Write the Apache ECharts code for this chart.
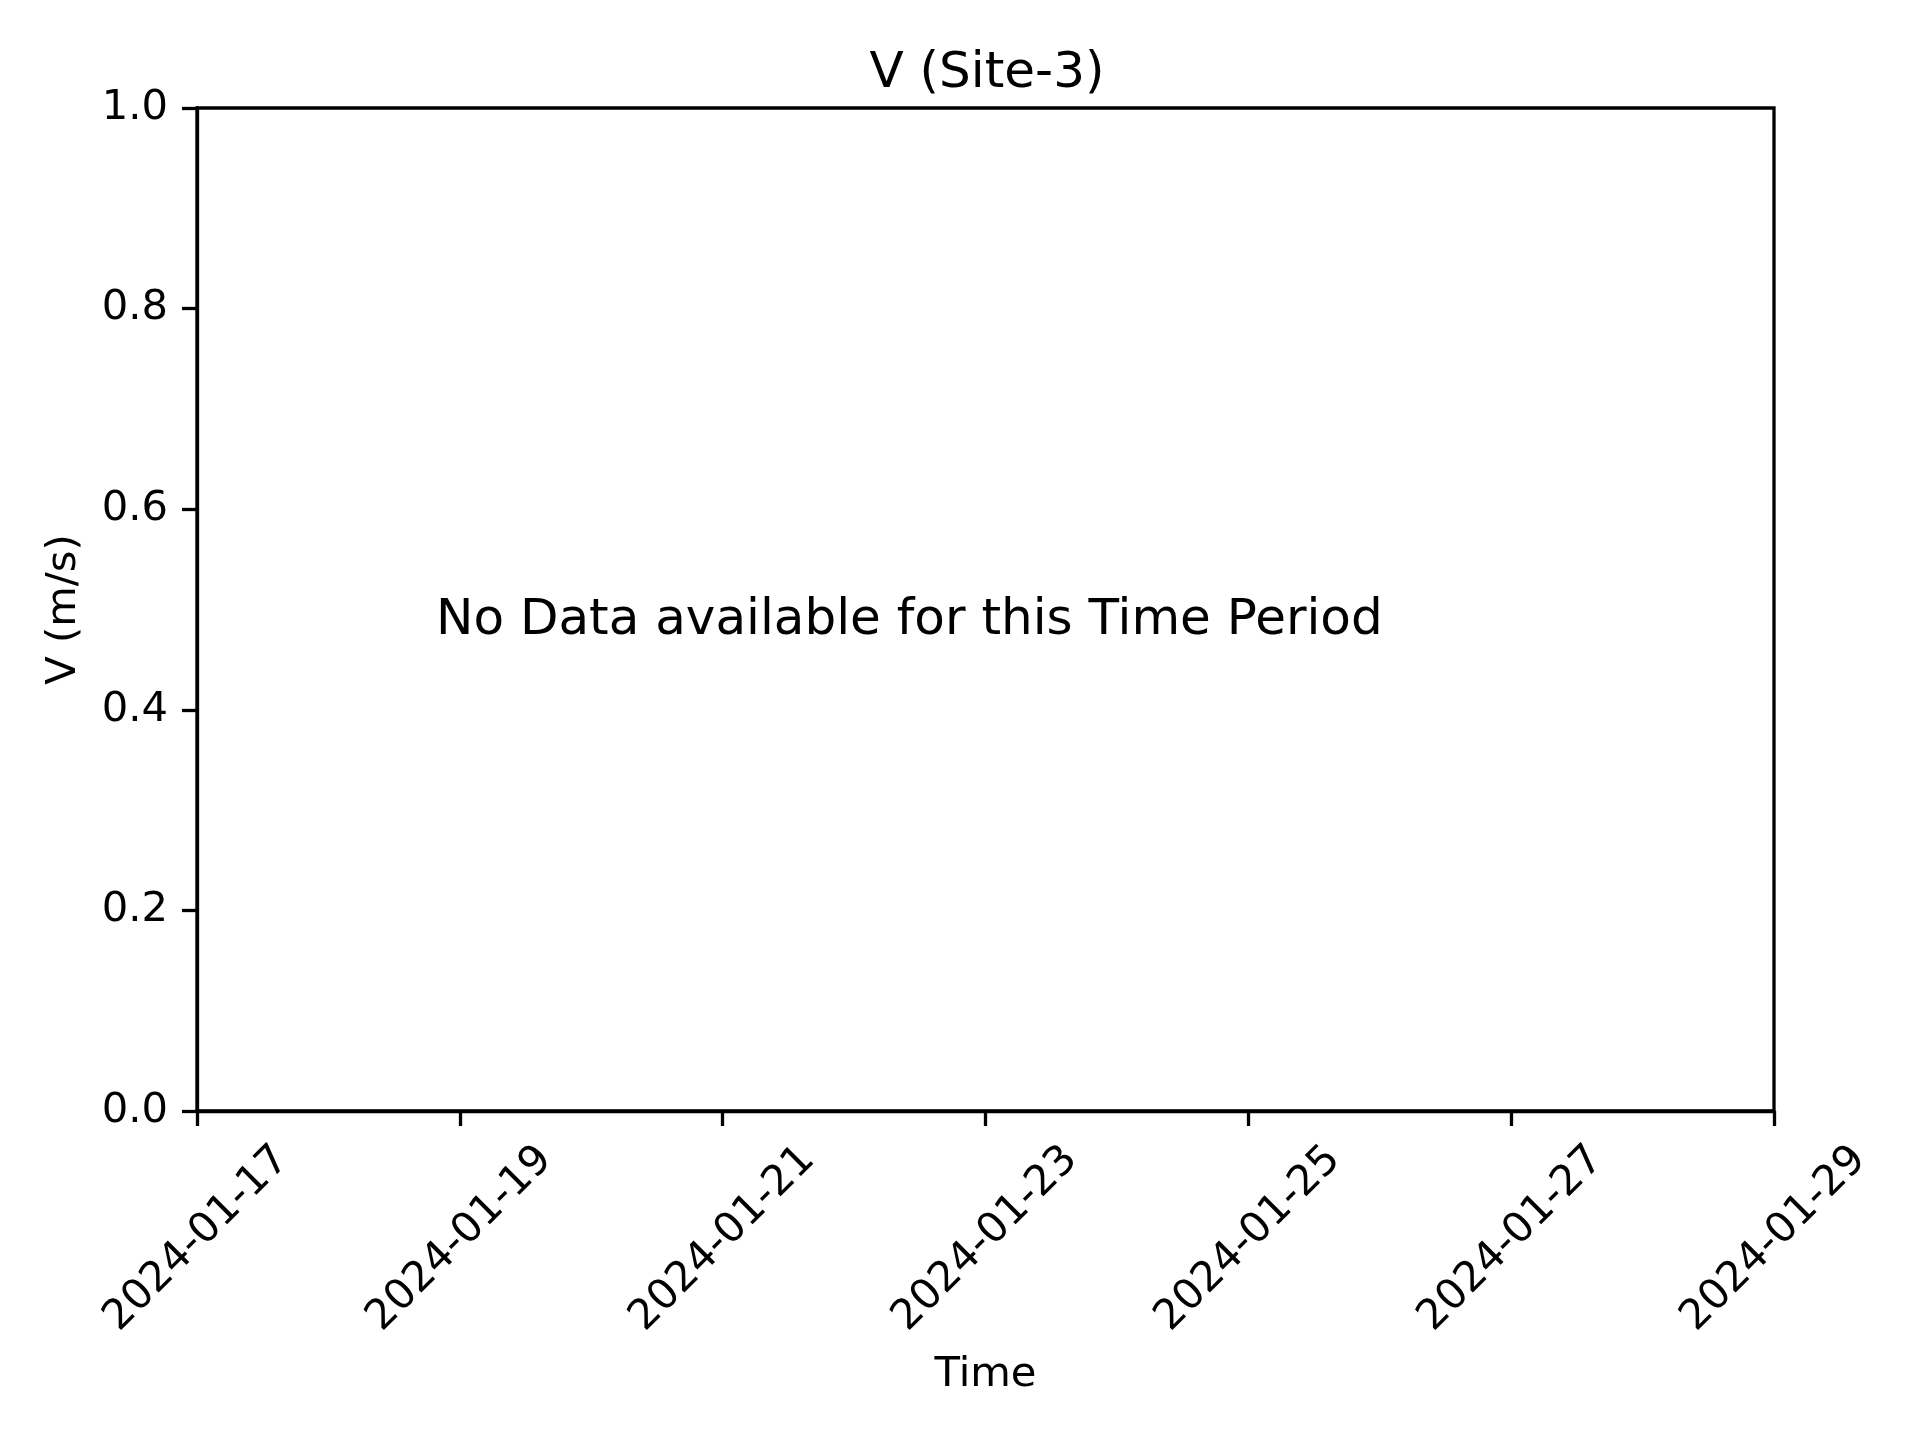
<!DOCTYPE html>
<html>
<head>
<meta charset="utf-8">
<script src="https://cdn.jsdelivr.net/npm/echarts@6/dist/echarts.min.js"></script>
<style>html,body{margin:0;padding:0;background:#fff;}#chart{width:1920px;height:1440px;}</style>
</head>
<body>
<div id="chart"></div>
<script>
const titleText = 'V (Site-3)';
const startDate = '2024-01-17';
const xTickLabels = ['2024-01-17','2024-01-19','2024-01-21','2024-01-23','2024-01-25','2024-01-27','2024-01-29'];
const yTickValues = [0.0, 0.2, 0.4, 0.6, 0.8, 1.0];
const seriesValues = []; // no data available
const noDataText = 'No Data available for this Time Period';

const FONT = 'DejaVu Sans';
const chart = echarts.init(document.getElementById('chart'));
function dayLabel(v) {
  const d = new Date(startDate + 'T00:00:00Z');
  d.setUTCDate(d.getUTCDate() + Math.round(v));
  return d.toISOString().slice(0, 10);
}
const lw = 3.3;
chart.setOption({
  animation: false,
  backgroundColor: '#fff',
  title: {
    text: titleText, left: 982, top: 44, textAlign: 'center',
    textStyle: { fontFamily: FONT, fontSize: 50, fontWeight: 'normal', color: '#000' }
  },
  grid: { left: 197, right: 146, top: 108, bottom: 329, show: true, borderColor: '#000', borderWidth: lw, backgroundColor: 'transparent' },
  xAxis: {
    type: 'value', min: 0, max: (xTickLabels.length - 1) * 2, interval: 2,
    name: 'Time', nameLocation: 'middle', nameGap: 243,
    nameTextStyle: { fontFamily: FONT, fontSize: 41.7, color: '#000' },
    axisLine: { show: true, lineStyle: { color: '#000', width: lw } },
    axisTick: { show: true, length: 15, lineStyle: { color: '#000', width: lw } },
    splitLine: { show: false },
    axisLabel: {
      rotate: 45, margin: 128, align: 'center', verticalAlign: 'middle',
      fontFamily: FONT, fontSize: 41.7, color: '#000',
      formatter: v => dayLabel(v)
    }
  },
  yAxis: {
    type: 'value', min: yTickValues[0], max: yTickValues[yTickValues.length - 1], interval: 0.2,
    name: 'V (m/s)', nameLocation: 'middle', nameGap: 112, nameRotate: 90,
    nameTextStyle: { fontFamily: FONT, fontSize: 41.7, color: '#000' },
    axisLine: { show: true, lineStyle: { color: '#000', width: lw } },
    axisTick: { show: true, length: 15, lineStyle: { color: '#000', width: lw } },
    splitLine: { show: false },
    axisLabel: { margin: 29, fontFamily: FONT, fontSize: 41.7, color: '#000', formatter: v => v.toFixed(1) }
  },
  series: [{ type: 'line', data: seriesValues, showSymbol: false }],
  graphic: [{
    type: 'text', left: 436, top: 596,
    style: { text: noDataText, font: '50px "DejaVu Sans"', fill: '#000' }
  }]
});
</script>
</body>
</html>
